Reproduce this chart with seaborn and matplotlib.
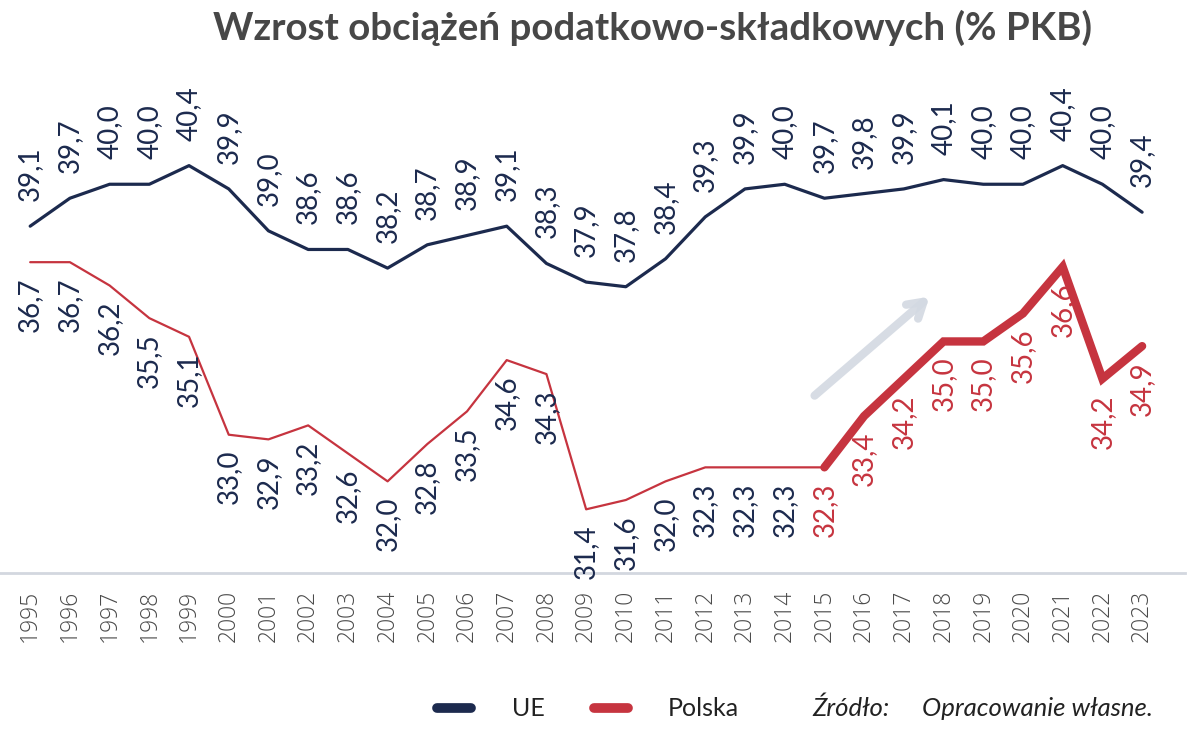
import matplotlib
matplotlib.use("Agg")
import matplotlib.pyplot as plt
import seaborn as sns
import pandas as pd
from matplotlib.lines import Line2D

years = list(range(1995, 2024))
ue = [39.1, 39.7, 40.0, 40.0, 40.4, 39.9, 39.0, 38.6, 38.6, 38.2, 38.7, 38.9, 39.1, 38.3,
      37.9, 37.8, 38.4, 39.3, 39.9, 40.0, 39.7, 39.8, 39.9, 40.1, 40.0, 40.0, 40.4, 40.0, 39.4]
polska = [36.7, 36.7, 36.2, 35.5, 35.1, 33.0, 32.9, 33.2, 32.6, 32.0, 32.8, 33.5, 34.6, 34.3,
          31.4, 31.6, 32.0, 32.3, 32.3, 32.3, 32.3, 33.4, 34.2, 35.0, 35.0, 35.6, 36.6, 34.2, 34.9]
highlight_from = 2015
title = "Wzrost obciążeń podatkowo-składkowych (% PKB)"
legend_labels = ["UE", "Polska"]
source_label = "Źródło:"
source_text = "Opracowanie własne."

NAVY = "#1C2A4E"
RED = "#C6343F"

df = pd.DataFrame({"year": years, "UE": ue, "Polska": polska})
df_thin = df[df["year"] <= highlight_from]
df_thick = df[df["year"] >= highlight_from]

sns.set_theme(style="white")
plt.rcParams["font.family"] = ["Lato", "DejaVu Sans"]

fig = plt.figure(figsize=(12, 7.33), dpi=100)
ax = fig.add_axes([0, 0.218, 0.9875, 0.591])
ax2 = ax.twinx()

sns.lineplot(data=df_thin, x="year", y="Polska", ax=ax, color=RED, lw=1.6)
sns.lineplot(data=df_thick, x="year", y="Polska", ax=ax, color=RED, lw=6,
             solid_capstyle="round", solid_joinstyle="miter")
sns.lineplot(data=df, x="year", y="UE", ax=ax2, color=NAVY, lw=2.3)

ax.set_xlim(1994.24, 2024.08)
ax.set_ylim(30.03, 39.32)
ax2.set_ylim(31.65, 40.95)

for a in (ax, ax2):
    for s in a.spines.values():
        s.set_visible(False)
    a.set_ylabel("")
    a.set_yticks([])
    a.grid(False)
ax.set_xlabel("")
ax2.set_xlabel("")
ax.spines["bottom"].set_visible(True)
ax.spines["bottom"].set_color("#D3D7DF")
ax.spines["bottom"].set_linewidth(2)

ax.set_xticks(years)
ax.set_xticklabels([str(y) for y in years], rotation=90, fontsize=16.5,
                   color="#4a4a4a", family=["Open Sans", "DejaVu Sans"], fontweight="light")
ax.tick_params(axis="x", length=0, pad=12)

def fmt(v):
    return f"{v:.1f}".replace(".", ",")

for y, v in zip(years, ue):
    ax2.annotate(fmt(v), (y, v), xytext=(0, 18), textcoords="offset points",
                 rotation=90, ha="center", va="bottom", fontsize=20, color=NAVY)
for y, v in zip(years, polska):
    col = RED if y >= highlight_from else NAVY
    ax.annotate(fmt(v), (y, v), xytext=(0, -11), textcoords="offset points",
                rotation=90, ha="center", va="top", fontsize=20, color=col)

# decorative arrow
ax.annotate("", xy=(2017.7, 36.0), xytext=(2014.7, 33.8),
            arrowprops=dict(arrowstyle="->,head_length=0.9,head_width=0.55",
                            color="#D3D9E2", lw=6, alpha=0.9))

fig.text(0.544, 0.962, title, ha="center", va="center", fontsize=27.7,
         fontweight="bold", color="#474747")

# legend
ly = 1 - 708 / 733
fig.add_artist(Line2D([437 / 1200, 471 / 1200], [ly, ly], color=NAVY, lw=7,
                      solid_capstyle="round", transform=fig.transFigure))
fig.text(512 / 1200, ly, legend_labels[0], ha="left", va="center", fontsize=18, color="#222222")
fig.add_artist(Line2D([594 / 1200, 628 / 1200], [ly, ly], color=RED, lw=7,
                      solid_capstyle="round", transform=fig.transFigure))
fig.text(668 / 1200, ly, legend_labels[1], ha="left", va="center", fontsize=18, color="#222222")
fig.text(812 / 1200, ly, source_label, ha="left", va="center", fontsize=18.5,
         style="italic", color="#222222")
fig.text(922 / 1200, ly, source_text, ha="left", va="center", fontsize=18.5,
         style="italic", color="#222222")

fig.savefig("out.png", dpi=100, facecolor="white")
